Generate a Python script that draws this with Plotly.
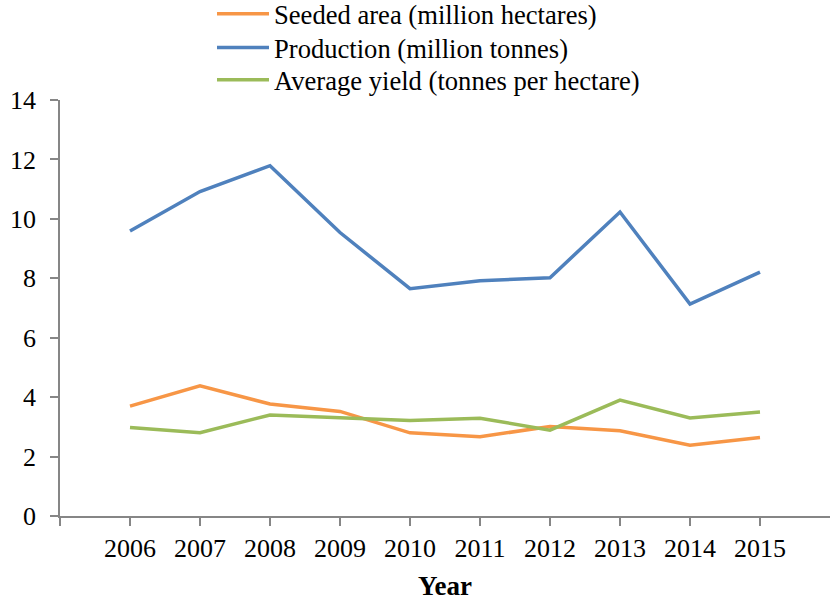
import plotly.graph_objects as go

years = [2006, 2007, 2008, 2009, 2010, 2011, 2012, 2013, 2014, 2015]
seeded_area = [3.70, 4.38, 3.77, 3.52, 2.80, 2.67, 3.01, 2.87, 2.38, 2.64]
production = [9.59, 10.92, 11.79, 9.54, 7.65, 7.92, 8.02, 10.23, 7.13, 8.21]
avg_yield = [2.98, 2.80, 3.40, 3.31, 3.21, 3.29, 2.89, 3.90, 3.30, 3.50]

series_names = ["Seeded area (million hectares)", "Production (million tonnes)",
                "Average yield (tonnes per hectare)"]
series_colors = ["#F79646", "#4F81BD", "#9BBB59"]
legend_ids = ["legend", "legend2", "legend3"]
legend_rows_y = [0.9729, 0.9076, 0.845]

FONT = "Liberation Serif, Times New Roman, serif"
AXIS_COLOR = "#868686"

fig = go.Figure()
for name, vals, col, lid in zip(series_names, [seeded_area, production, avg_yield],
                                series_colors, legend_ids):
    fig.add_trace(go.Scatter(x=years, y=vals, mode="lines", name=name, legend=lid,
                             line=dict(color=col, width=3.5)))

tick_vals = [years[0] - 1] + years
tick_text = [""] + [str(y) for y in years]

legend_style = dict(x=0.1974, xanchor="left", yanchor="middle",
                    font=dict(family=FONT, size=26.6, color="black"),
                    itemwidth=52, bgcolor="rgba(0,0,0,0)", borderwidth=0)
layout_legends = {lid: dict(legend_style, y=ly) for lid, ly in zip(legend_ids, legend_rows_y)}

fig.update_layout(
    width=830, height=601,
    margin=dict(l=60, r=0, t=0, b=85, autoexpand=False),
    paper_bgcolor="white", plot_bgcolor="white",
    font=dict(family=FONT, size=26, color="black"),
    showlegend=True,
    **layout_legends,
    xaxis=dict(range=[years[0] - 1, years[-1] + 1], tickvals=tick_vals, ticktext=tick_text,
               showgrid=False, zeroline=False, showline=True, linecolor=AXIS_COLOR, linewidth=1.5,
               ticks="outside", ticklen=8, tickcolor=AXIS_COLOR, tickwidth=1.5,
               automargin=False,
               tickfont=dict(family=FONT, size=26, color="black"),
               title=dict(text="<b>Year</b>", font=dict(family=FONT, size=27, color="black"),
                          standoff=26)),
    yaxis=dict(range=[0, 14], dtick=2, domain=[0, 416 / 516], showgrid=False, zeroline=False,
               showline=True, automargin=False,
               linecolor=AXIS_COLOR, linewidth=1.5, ticks="outside", ticklen=8,
               tickcolor=AXIS_COLOR, tickwidth=1.5, ticklabelstandoff=9,
               tickfont=dict(family=FONT, size=26, color="black")),
)

fig.write_html("out.html", config={"displayModeBar": False},
               post_script="document.body.style.margin='0';")
